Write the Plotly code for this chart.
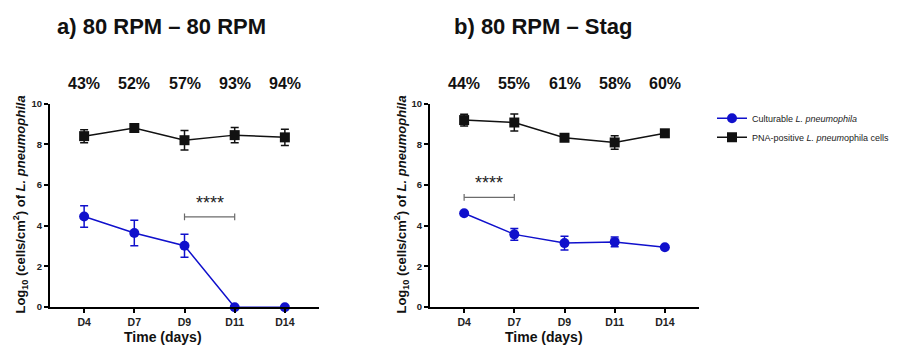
import plotly.graph_objects as go

days = ["D4", "D7", "D9", "D11", "D14"]
xpos = list(range(len(days)))

# Panel a) 80 RPM – 80 RPM
a_cult = [4.46, 3.65, 3.02, 0.0, 0.0]
a_cult_err = [0.53, 0.63, 0.56, 0.0, 0.0]
a_pna = [8.41, 8.81, 8.21, 8.46, 8.35]
a_pna_err = [0.32, 0.20, 0.48, 0.38, 0.40]
a_pct = ["43%", "52%", "57%", "93%", "94%"]
a_sig = (2, 3, 4.44)  # from D9 to D11, at height

# Panel b) 80 RPM – Stag
b_cult = [4.62, 3.58, 3.15, 3.21, 2.95]
b_cult_err = [0.06, 0.29, 0.34, 0.24, 0.06]
b_pna = [9.2, 9.08, 8.33, 8.1, 8.55]
b_pna_err = [0.29, 0.42, 0.08, 0.33, 0.08]
b_pct = ["44%", "55%", "61%", "58%", "60%"]
b_sig = (0, 1, 5.4)

BLUE = "#1010cc"
BLACK = "#111111"
GRAY = "#6b6b6b"
FONT = "Arial, Liberation Sans, sans-serif"

fig = go.Figure()

def add_panel(xa, ya, cult, cult_err, pna, pna_err, showleg):
    fig.add_trace(go.Scatter(
        x=xpos, y=cult, xaxis=xa, yaxis=ya, mode="lines+markers",
        name="Culturable <i>L. pneumophila</i>", showlegend=showleg,
        line=dict(color=BLUE, width=1.5),
        marker=dict(symbol="circle", size=10, color=BLUE),
        error_y=dict(type="data", array=cult_err, visible=True, color=BLUE, thickness=1.5, width=4),
        cliponaxis=False))
    fig.add_trace(go.Scatter(
        x=xpos, y=pna, xaxis=xa, yaxis=ya, mode="lines+markers",
        name="PNA-positive <i>L. pneum</i>ophila cells", showlegend=showleg,
        line=dict(color=BLACK, width=1.5),
        marker=dict(symbol="square", size=10, color=BLACK),
        error_y=dict(type="data", array=pna_err, visible=True, color=BLACK, thickness=1.5, width=4),
        cliponaxis=False))

add_panel("x", "y", a_cult, a_cult_err, a_pna, a_pna_err, True)
add_panel("x2", "y2", b_cult, b_cult_err, b_pna, b_pna_err, False)

ydom = [37 / 348, 247 / 348]
xax = dict(range=[-0.68, 4.68], tickvals=xpos, ticktext=days, showline=True, linecolor="black",
           linewidth=2, ticks="outside", ticklen=4, tickwidth=1.5, tickcolor="black",
           showgrid=False, zeroline=False,
           tickfont=dict(family=FONT, size=10.5, color="#222", weight="bold"), fixedrange=True)
yax = dict(range=[0, 10], tickvals=[0, 2, 4, 6, 8, 10], showline=True, linecolor="black",
           linewidth=2, ticks="outside", ticklen=4, tickwidth=1.5, tickcolor="black",
           showgrid=False, zeroline=False, domain=ydom,
           tickfont=dict(family=FONT, size=9.5, color="#222", weight="bold"), fixedrange=True)

fig.update_layout(
    width=919, height=348, margin=dict(l=0, r=0, t=0, b=0),
    paper_bgcolor="white", plot_bgcolor="white",
    xaxis=dict(xax, domain=[50 / 919, 319 / 919], anchor="y"),
    yaxis=dict(yax, anchor="x"),
    xaxis2=dict(xax, domain=[430 / 919, 699 / 919], anchor="y2"),
    yaxis2=dict(yax, anchor="x2"),
    legend=dict(x=712 / 919, y=1 - 101 / 348, xanchor="left", yanchor="top",
                font=dict(family=FONT, size=9, color="#222"), itemwidth=30,
                bgcolor="rgba(0,0,0,0)", tracegroupgap=2),
    showlegend=True,
)

annotations = []
shapes = []

def panel_text(xa, ya, pct, sig, title, title_x, ytitle_x, xtitle_x):
    for i, p in enumerate(pct):
        annotations.append(dict(x=xpos[i], y=1 - 80 / 348, xref=xa, yref="paper", text="<b>" + p + "</b>",
                                showarrow=False, font=dict(family=FONT, size=16, color="#111"),
                                xanchor="center", yanchor="middle"))
    annotations.append(dict(x=title_x / 919, y=1 - 21 / 348, xref="paper", yref="paper", text="<b>" + title + "</b>",
                            showarrow=False, font=dict(family=FONT, size=22, color="#111"),
                            xanchor="left", yanchor="middle"))
    annotations.append(dict(x=ytitle_x / 919, y=1 - 205 / 348, xref="paper", yref="paper",
                            text="<b>Log<sub>10</sub> (cells/cm<sup>2</sup>) of <i>L. pneumophila</i></b>",
                            textangle=-90, showarrow=False, font=dict(family=FONT, size=13, color="#111"),
                            xanchor="center", yanchor="middle"))
    annotations.append(dict(x=xtitle_x / 919, y=1 - 342 / 348, xref="paper", yref="paper",
                            text="<b>Time (days)</b>", showarrow=False,
                            font=dict(family=FONT, size=14, color="#111"), xanchor="center", yanchor="middle"))
    x0, x1, yy = sig
    shapes.append(dict(type="line", xref=xa, yref=ya, x0=x0, x1=x1, y0=yy, y1=yy,
                       line=dict(color=GRAY, width=1.2)))
    for xx in (x0, x1):
        shapes.append(dict(type="line", xref=xa, yref=ya, x0=xx, x1=xx, y0=yy - 0.17, y1=yy + 0.17,
                           line=dict(color=GRAY, width=1.2)))
    annotations.append(dict(x=(x0 + x1) / 2, y=yy + 0.1, xref=xa, yref=ya, text="****", showarrow=False,
                            font=dict(family=FONT, size=18, color="#222"), xanchor="center", yanchor="bottom"))

panel_text("x", "y", a_pct, a_sig, "a) 80 RPM – 80 RPM", 55, 20, 163)
panel_text("x2", "y2", b_pct, b_sig, "b) 80 RPM – Stag", 452, 401, 544)

fig.update_layout(annotations=annotations, shapes=shapes)
fig.write_html("out.html")
